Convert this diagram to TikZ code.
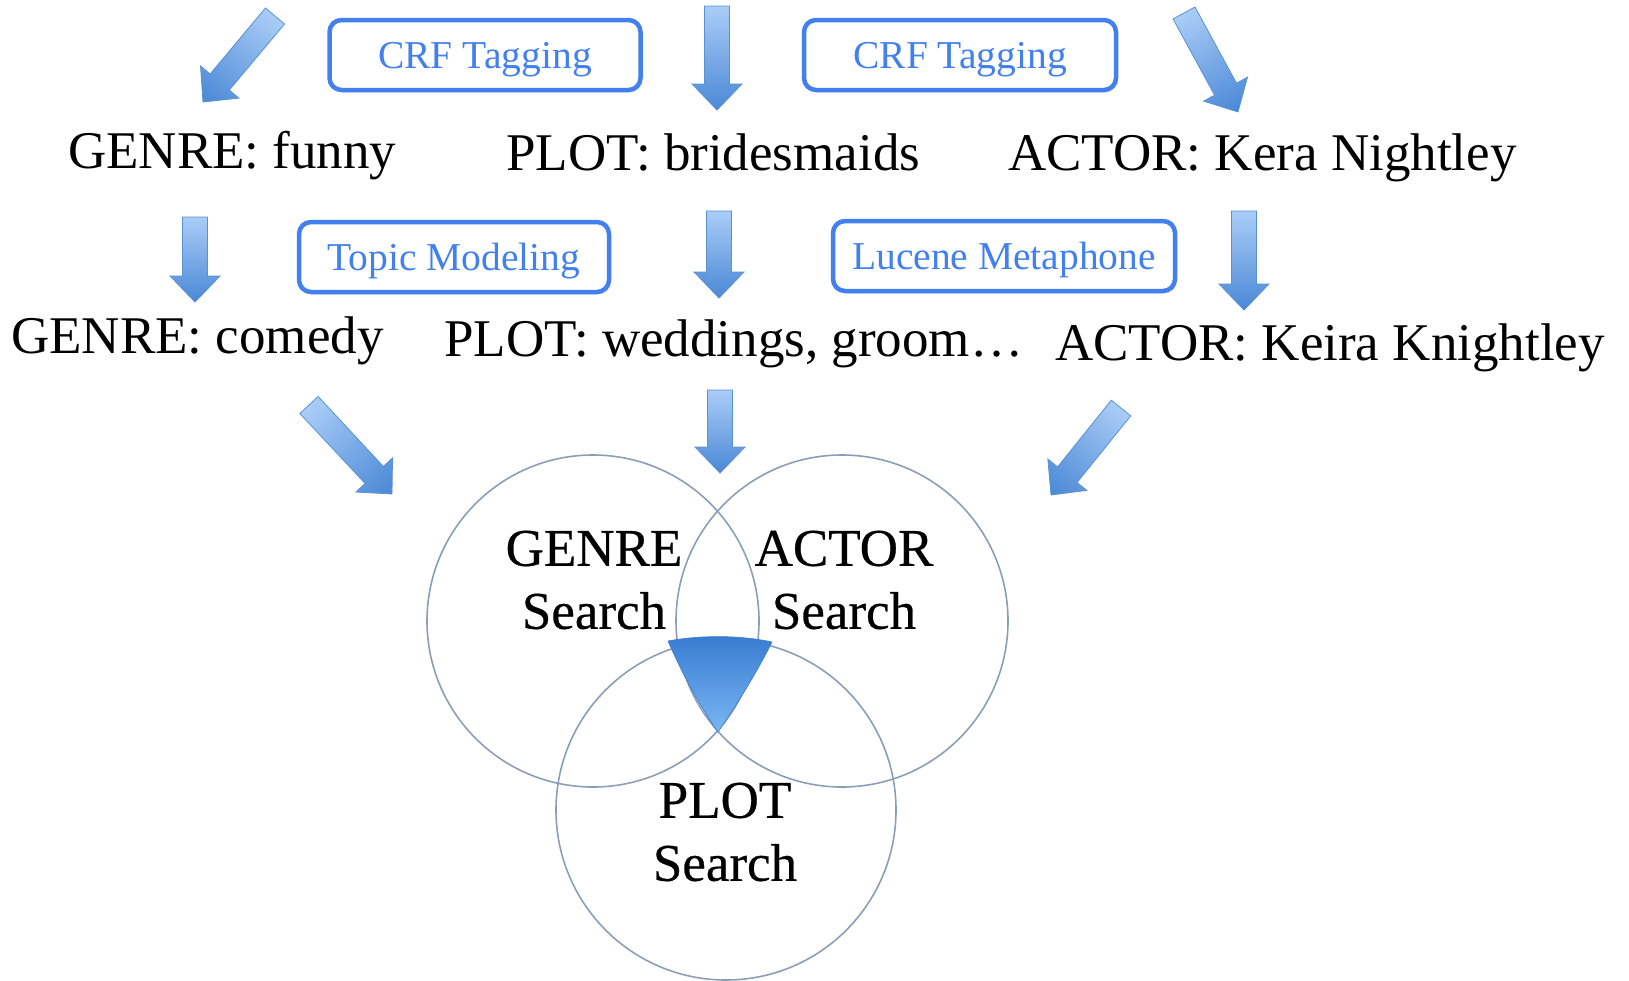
\documentclass[tikz,border=0pt]{standalone}
\usepackage{fontspec}
\setmainfont{Liberation Serif}
\newfontfamily\vennfont[FakeBold=0.5]{Liberation Serif}
\usetikzlibrary{shadows,calc}

\definecolor{boxblue}{RGB}{66,128,240}
\definecolor{arrlight}{RGB}{170,205,247}
\definecolor{arrdark}{RGB}{74,136,214}
\definecolor{arredge}{RGB}{90,145,212}
\definecolor{vennline}{RGB}{140,158,182}
\definecolor{tridark}{RGB}{56,124,208}
\definecolor{trilight}{RGB}{122,182,244}

\tikzset{
  bigtext/.style={font=\fontsize{53}{63}\selectfont, inner sep=0pt, anchor=base west},
  methodbox/.style={draw=boxblue, line width=4.5pt, rounded corners=12pt, fill=white,
    text=boxblue, font=\fontsize{39.5}{47}\selectfont, text depth=0pt,
    minimum width=#1, minimum height=70pt, inner sep=0pt,
    drop shadow={opacity=0.18, shadow xshift=1.5pt, shadow yshift=-2.5pt}},
  venntext/.style={font=\vennfont\fontsize{53}{63}\selectfont, align=center, inner sep=0pt},
  vennring/.style={draw=vennline, line width=1.6pt},
  arrowbody/.style={left color=arrlight, right color=arrdark, draw=arredge, line width=0.8pt},
}

% block arrow from one named coordinate to another: shaft 25, head 50 wide, 26 long
\newcommand\blockarrow[2]{%
  \path let \p1=(#1), \p2=(#2) in
    \pgfextra{%
      \pgfmathsetmacro\arrang{atan2(\y2-\y1,\x2-\x1)}%
      \pgfmathsetmacro\arrlen{veclen(\x2-\x1,\y2-\y1)}%
      \xdef\arrang{\arrang}\xdef\arrlen{\arrlen}%
      \xdef\arrx{\x1}\xdef\arry{\y1}};
  \begin{scope}[transform canvas={shift={(\arrx,\arry)},rotate=\arrang}]
    \shade[arrowbody]
      (0pt,-12.5pt) -- ({\arrlen pt-26pt},-12.5pt) -- ({\arrlen pt-26pt},-25pt)
      -- ({\arrlen pt},0pt) -- ({\arrlen pt-26pt},25pt) -- ({\arrlen pt-26pt},12.5pt)
      -- (0pt,12.5pt) -- cycle;
  \end{scope}
}

\begin{document}
\begin{tikzpicture}[x=1pt,y=-1pt]
\useasboundingbox (0,0) rectangle (1629,980);

% method boxes
\node[methodbox=311pt] (crf1) at (485,55) {CRF Tagging};
\node[methodbox=312pt] (crf2) at (960,55) {CRF Tagging};
\node[methodbox=310pt] (topic) at (454,257) {Topic Modeling};
\node[methodbox=342pt] (lucene) at (1004,256) {Lucene Metaphone};

% query fields
\node[bigtext] (g1) at (68,168) {GENRE: funny};
\node[bigtext] (p1) at (506,170) {PLOT: bridesmaids};
\node[bigtext] (a1) at (1008,170) {ACTOR: Kera Nightley};
\node[bigtext] (g2) at (11,353) {GENRE: comedy};
\node[bigtext] (p2) at (444,356) {PLOT: weddings, groom…};
\node[bigtext] (a2) at (1055,360) {ACTOR: Keira Knightley};

% arrow end points
\coordinate (r1s) at (275,16);   \coordinate (r1e) at (203,102);
\coordinate (r2s) at (717,6);    \coordinate (r2e) at (717,110);
\coordinate (r3s) at (1184,13);  \coordinate (r3e) at (1238,112);
\coordinate (r4s) at (195,217);  \coordinate (r4e) at (195,302);
\coordinate (r5s) at (719,211);  \coordinate (r5e) at (719,298);
\coordinate (r6s) at (1244,211); \coordinate (r6e) at (1244,310);
\coordinate (r7s) at (309,405);  \coordinate (r7e) at (392,494);
\coordinate (r8s) at (720,390);  \coordinate (r8e) at (720,473);
\coordinate (r9s) at (1121,408); \coordinate (r9e) at (1051,495);

\blockarrow{r1s}{r1e}
\blockarrow{r2s}{r2e}
\blockarrow{r3s}{r3e}
\blockarrow{r4s}{r4e}
\blockarrow{r5s}{r5e}
\blockarrow{r6s}{r6e}
\blockarrow{r7s}{r7e}
\blockarrow{r8s}{r8e}
\blockarrow{r9s}{r9e}

% Venn diagram of the three searches
\coordinate (cg) at (593,621);
\coordinate (ca) at (842,621);
\coordinate (cp) at (726,810);
\draw[vennring] (cg) circle[radius=166];
\draw[vennring] (ca) circle[radius=166];
\draw[vennring] (cp) circle[radius=170];

% shared result region
\coordinate (tl) at (668,641);
\coordinate (tr) at (772,642);
\coordinate (tb) at (718,732);
\shade[top color=tridark, bottom color=trilight, draw=tridark, line width=0.6pt]
  (tl) .. controls (700,635) and (740,635) .. (tr)
       .. controls (758,670) and (740,700) .. (tb)
       .. controls (697,702) and (681,671) .. (tl) -- cycle;

\node[venntext] (gs) at (594,580) {GENRE\\Search};
\node[venntext] (as) at (844,580) {ACTOR\\Search};
\node[venntext] (ps) at (725,832) {PLOT\\Search};
\end{tikzpicture}
\end{document}
